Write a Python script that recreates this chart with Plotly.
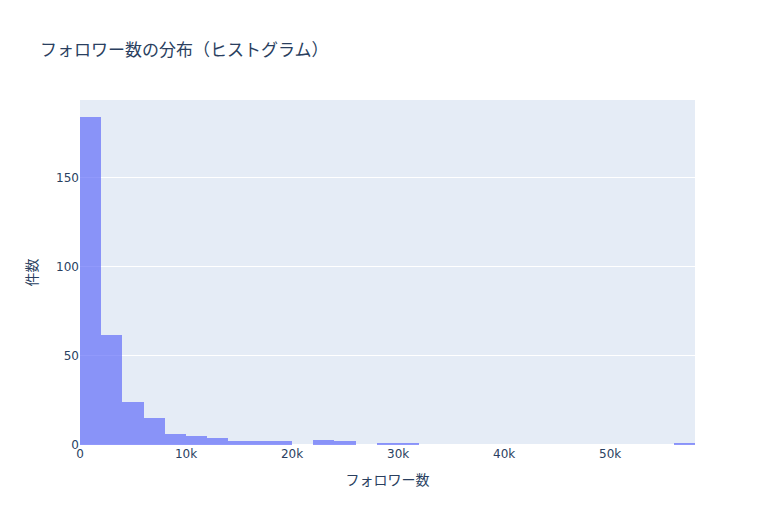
import plotly.graph_objects as go

# ビンの開始値（2k刻み）と件数
bin_starts = [0, 2000, 4000, 6000, 8000, 10000, 12000, 14000, 16000, 18000,
              20000, 22000, 24000, 26000, 28000, 30000, 56000]
counts = [184, 62, 24, 15, 6, 5, 4, 2, 2, 2, 0, 3, 2, 0, 1, 1, 1]

fig = go.Figure()

fig.add_trace(go.Histogram(
    x=bin_starts,
    y=counts,
    histfunc="sum",
    xbins=dict(start=0, end=58000, size=2000),
    marker_color="#636efa",
    opacity=0.7,
))

# ページの余白(8px)を打ち消すように余白を調整
fig.update_layout(
    template="plotly",
    width=775,
    height=525,
    margin=dict(l=72, r=88, t=92, b=88),
    title=dict(text="フォロワー数の分布（ヒストグラム）", x=0.0413, y=0.92,
               xanchor="left", yanchor="middle"),
    xaxis_title="フォロワー数",
    yaxis_title="件数",
    bargap=0,
    font=dict(family="'DejaVu Sans', 'Noto Sans CJK JP', sans-serif"),
    xaxis=dict(range=[0, 58000]),
)

fig.write_html("out.html")
